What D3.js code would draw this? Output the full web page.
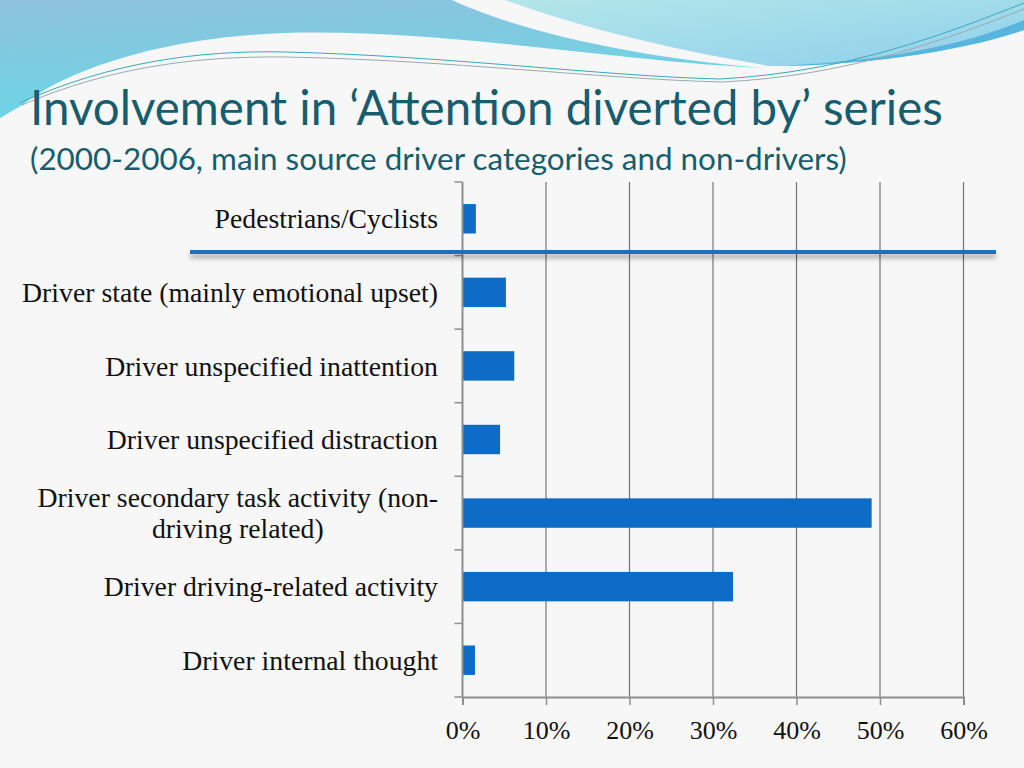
<!DOCTYPE html>
<html><head><meta charset="utf-8">
<script src="https://cdn.jsdelivr.net/npm/d3@7"></script>
<style>body{margin:0;background:#f7f7f7}svg{display:block}</style>
</head><body>
<svg id="c" width="1024" height="768"></svg>
<script>
// ---- data ----
const categories = [
  "Pedestrians/Cyclists",
  "Driver state (mainly emotional upset)",
  "Driver unspecified inattention",
  "Driver unspecified distraction",
  "Driver secondary task activity (non-driving related)",
  "Driver driving-related activity",
  "Driver internal thought"
];
const labelLines = [
  ["Pedestrians/Cyclists"],
  ["Driver state (mainly emotional upset)"],
  ["Driver unspecified inattention"],
  ["Driver unspecified distraction"],
  ["Driver secondary task activity (non-", "driving related)"],
  ["Driver driving-related activity"],
  ["Driver internal thought"]
];
const values = [1.6, 5.2, 6.2, 4.5, 49.0, 32.4, 1.5];
const xTicks = [0, 10, 20, 30, 40, 50, 60];
const titleText = "Involvement in \u2018Attention diverted by\u2019 series";
const subtitleText = "(2000-2006, main source driver categories and non-drivers)";

const svg = d3.select("#c");
const W = 1024, H = 768;

// ---- background & decoration ----
const defs = svg.append("defs");
const g1 = defs.append("linearGradient").attr("id","gl").attr("x1","0").attr("y1","0").attr("x2","0.3").attr("y2","1");
g1.append("stop").attr("offset","0").attr("stop-color","#8fc2dc");
g1.append("stop").attr("offset","1").attr("stop-color","#6ad6e6");
const g2 = defs.append("linearGradient").attr("id","gr").attr("x1","0").attr("y1","0").attr("x2","1").attr("y2","1");
g2.append("stop").attr("offset","0").attr("stop-color","#b3e6e9");
g2.append("stop").attr("offset","1").attr("stop-color","#8fd0ec");
const sh = defs.append("filter").attr("id","sh").attr("filterUnits","userSpaceOnUse")
  .attr("x",170).attr("y",235).attr("width",850).attr("height",40);
sh.append("feDropShadow").attr("dx",0).attr("dy",4).attr("stdDeviation",2.5).attr("flood-color","#000").attr("flood-opacity",0.35);

svg.append("rect").attr("width",W).attr("height",H).attr("fill","#f7f7f7");
svg.append("path")
  .attr("d","M0,0 L452,0 C520,32 640,58 765,68 C620,62 440,28 285,33 C150,38 60,75 24,104 L0,118 Z")
  .attr("fill","url(#gl)");
svg.append("path")
  .attr("d","M505,0 L1024,0 L1024,30 C960,52 860,66 770,66 C660,48 570,24 505,0 Z")
  .attr("fill","url(#gr)");
svg.append("path")
  .attr("d","M770,66 C860,64 960,48 1024,20 L1024,30 C960,52 860,66 770,66 Z")
  .attr("fill","#56b6de");
svg.append("path")
  .attr("d","M20,103 C110,62 200,50 285,52 C450,56 600,76 720,79 C850,72 950,32 1024,3")
  .attr("fill","none").attr("stroke","#3aa9b9").attr("stroke-width",1);
svg.append("path")
  .attr("d","M22,105 C112,66 200,56 285,57 C450,60 600,79 722,82 C850,76 950,38 1024,9")
  .attr("fill","none").attr("stroke","#9aa9ad").attr("stroke-width",1);

// ---- titles ----
function fitText(sel, target){
  const w = sel.node().getComputedTextLength();
  const fs = parseFloat(sel.attr("font-size"));
  sel.attr("font-size", fs * target / w);
}
const t1 = svg.append("text").attr("x",30).attr("y",125)
  .attr("font-family","Lato, 'Open Sans', sans-serif").attr("font-size",44)
  .attr("fill","#175d6e").text(titleText);
fitText(t1, 913);
const t2 = svg.append("text").attr("x",30).attr("y",170)
  .attr("font-family","Lato, 'Open Sans', sans-serif").attr("font-size",26)
  .attr("fill","#175d6e").text(subtitleText);
fitText(t2, 817);

// ---- chart ----
const x0 = 462.5, x1 = 963.5, yTop = 182, yBot = 697;
const x = d3.scaleLinear().domain([0, 60]).range([x0, x1]);
const y = d3.scaleBand().domain(categories).range([yTop, yBot]).paddingInner(0.6).paddingOuter(0.3);
const step = y.step();
const bandTop = c => y(c) - y.paddingOuter() * step; // start of band slot

// gridlines
svg.append("g").selectAll("line").data(xTicks.filter(d => d > 0)).join("line")
  .attr("x1", d => x(d)).attr("x2", d => x(d))
  .attr("y1", yTop).attr("y2", yBot)
  .attr("stroke","#757575").attr("stroke-width",1.2);

// bars
svg.append("g").selectAll("rect").data(categories).join("rect")
  .attr("x", x(0)).attr("y", d => y(d))
  .attr("width", (d,i) => x(values[i]) - x(0))
  .attr("height", y.bandwidth())
  .attr("fill","#0e6bc6");

// bottom axis
const xa = svg.append("g").attr("transform",`translate(0,${yBot})`)
  .call(d3.axisBottom(x).tickValues(xTicks).tickFormat(d => d + "%").tickSize(8).tickPadding(16));
xa.select(".domain").attr("stroke","#8e8e8e").attr("stroke-width",2);
xa.selectAll(".tick line").attr("stroke","#8e8e8e").attr("stroke-width",1.5);
xa.selectAll(".tick text").attr("fill","#111").attr("font-family","'Liberation Serif', 'Times New Roman', serif").attr("font-size",26);

// left axis: line + ticks at band boundaries
const edges = categories.map(bandTop).concat([yBot]);
svg.append("line").attr("x1",x0).attr("x2",x0).attr("y1",yTop).attr("y2",yBot)
  .attr("stroke","#8e8e8e").attr("stroke-width",2);
svg.append("g").selectAll("line").data(edges).join("line")
  .attr("x1",x0-8).attr("x2",x0).attr("y1",d=>d).attr("y2",d=>d)
  .attr("stroke","#8e8e8e").attr("stroke-width",1.5);

// category labels
const lab = svg.append("g").attr("font-family","'Liberation Serif', 'Times New Roman', serif")
  .attr("font-size",24).attr("fill","#111");
const probe = lab.append("text").text(labelLines[1][0]);
const lfs = 24 * 416 / probe.node().getComputedTextLength();
probe.remove();
lab.attr("font-size", lfs);
const lineH = 31;
labelLines.forEach((lines, i) => {
  const cy = y(categories[i]) + y.bandwidth()/2;
  const n = lines.length;
  const t = lab.append("text").attr("text-anchor","end");
  const spans = lines.map((ln, k) => t.append("tspan")
    .attr("x", 438).attr("y", cy + (k - (n-1)/2) * lineH).attr("dy","0.35em").text(ln));
  if (n > 1) {
    const w0 = spans[0].node().getComputedTextLength();
    const center = 438 - w0/2;
    spans.slice(1).forEach(s => s.attr("text-anchor","middle").attr("x", center));
  }
});

// separator line with shadow
svg.append("rect").attr("x",190).attr("y",250).attr("width",806).attr("height",4)
  .attr("fill","#1f6fbd").attr("filter","url(#sh)");
</script>
</body></html>
